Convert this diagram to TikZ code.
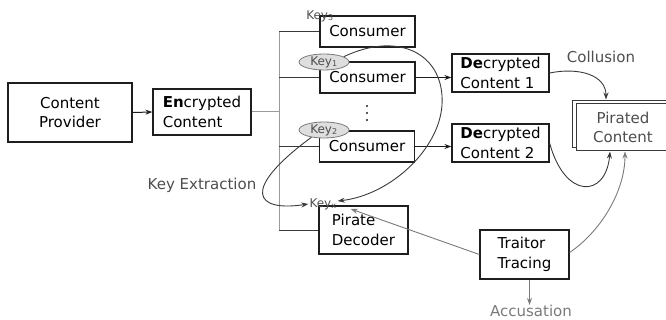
\documentclass[tikz,border=0pt]{standalone}
\usepackage{fontspec}
\setmainfont{DejaVu Sans}
\usetikzlibrary{arrows.meta,shapes.geometric}
\definecolor{inkdark}{HTML}{1E1E1E}
\definecolor{linkdark}{HTML}{3A3A3A}
\definecolor{linkgray}{HTML}{7A7A7A}
\definecolor{busgray}{HTML}{9A9A9A}
\definecolor{labelgray}{HTML}{4E4E4E}
\begin{document}
\begin{tikzpicture}[x=1pt,y=-1pt,
  font=\fontsize{15}{19.5}\selectfont,
  box/.style={draw=inkdark, line width=1.2pt, fill=white, inner sep=0pt, align=left},
  keylabel/.style={font=\fontsize{12}{14}\selectfont, text=labelgray, inner sep=1pt},
  keyoval/.style={keylabel, ellipse, draw=linkgray, fill=black!13, line width=0.8pt,
                  minimum width=50pt, minimum height=16pt, inner sep=0pt},
  tip/.style={-{Stealth[length=7pt,width=5pt]}},
  flow/.style={tip, draw=inkdark, line width=1pt},
  bus/.style={draw=busgray, line width=1pt},
  branch/.style={draw=linkdark, line width=0.9pt},
  curve/.style={tip, draw=linkdark, line width=0.9pt},
  softcurve/.style={tip, draw=linkgray, line width=0.9pt},
  note/.style={text=labelgray, inner sep=0pt}]
\useasboundingbox (0,0) rectangle (666,320);

% boxes
\node[box, align=center, minimum width=124pt, minimum height=59pt] (provider) at (70,112.5) {Content\\Provider};
\node[box, minimum width=98pt, minimum height=46pt] (enc) at (202,112) {\textbf{En}crypted\\Content};
\node[box, minimum width=95pt, minimum height=31pt] (c1) at (367.5,31.5) {Consumer};
\node[box, minimum width=95pt, minimum height=31pt] (c2) at (367.5,77.5) {Consumer};
\node[box, minimum width=95pt, minimum height=31pt] (c3) at (367,146.5) {Consumer};
\node[box, minimum width=89pt, minimum height=48pt] (pirate) at (363.5,230) {Pirate\\Decoder};
\node[box, minimum width=97pt, minimum height=38pt] (dec1) at (500.5,73) {\textbf{De}crypted\\Content 1};
\node[box, minimum width=97pt, minimum height=38pt] (dec2) at (500.5,143) {\textbf{De}crypted\\Content 2};
\node[box, minimum width=89pt, minimum height=49pt] (tt) at (524.5,254.5) {Traitor\\Tracing};

% pirated copy: a back sheet behind the front one
\node[box, line width=1pt, draw=linkdark, minimum width=94pt, minimum height=47pt] (pirback) at (619,124) {};
\node[box, line width=1pt, draw=linkdark, text=labelgray, align=center,
      minimum width=94pt, minimum height=47pt] (pirated) at (623,127.5) {Pirated\\Content};

% vertical ellipsis between the consumers
\fill[inkdark] (367,106) circle (1.1) (367,113) circle (1.1) (367,120) circle (1.1);

% distribution bus
\coordinate (bus) at (279,0);
\draw[bus] (enc.east) -- (enc.east -| bus);
\draw[bus] (c1.west -| bus) -- (pirate.west -| bus);
\draw[branch] (c1.west -| bus) -- (c1.west);
\draw[branch] (c2.west -| bus) -- (c2.west);
\draw[branch] (c3.west -| bus) -- (c3.west);
\draw[branch] (pirate.west -| bus) -- (pirate.west);

% keys
\node[keylabel] (key3) at (320,16) {Key\textsubscript{3}};
\node[keyoval] (key1) at (324,62) {Key\textsubscript{1}};
\node[keyoval] (key2) at (324,130) {Key\textsubscript{2}};
\node[keylabel] (keyx) at (323,204) {Key\textsubscript{x}};

% main flow
\draw[flow] (provider.east) -- (enc.west);
\draw[flow] (c2.east) -- (c2.east -| dec1.west);
\draw[flow] (c3.east) -- (c3.east -| dec2.west);

% labels
\node[note] (collusion) at (601,57) {Collusion};
\node[note] (extraction) at (202,185) {Key Extraction};
\node[note, text=linkgray] (accusation) at (531,311) {Accusation};

% collusion of the decrypted contents
\draw[curve] (dec1.east) .. controls (579,67) and (606,75) .. ([xshift=-17pt,yshift=4pt]pirated.north);
\draw[curve] (dec2.east) .. controls (565,200) and (606,198) .. ([xshift=-13pt]pirated.south);

% key extraction into the pirate decoder
\coordinate (loop) at (442,105);
\draw[curve] (key1.15) .. controls (400,30) and (445,55) .. (loop)
                       .. controls (439,150) and (390,195) .. ([yshift=3pt]keyx.east);
\draw[curve] (key2.210) .. controls (240,190) and (255,212) .. (keyx.west);

% tracing
\coordinate (accstart) at ([xshift=5pt]tt.south);
\draw[softcurve] (tt.west) -- ([xshift=13pt,yshift=-5pt]keyx.east);
\draw[softcurve] ([yshift=2pt]tt.east) .. controls (600,232) and (625,192) .. ([xshift=2pt]pirated.south);
\draw[softcurve] (accstart) -- (accstart |- accusation.north);
\end{tikzpicture}
\end{document}
